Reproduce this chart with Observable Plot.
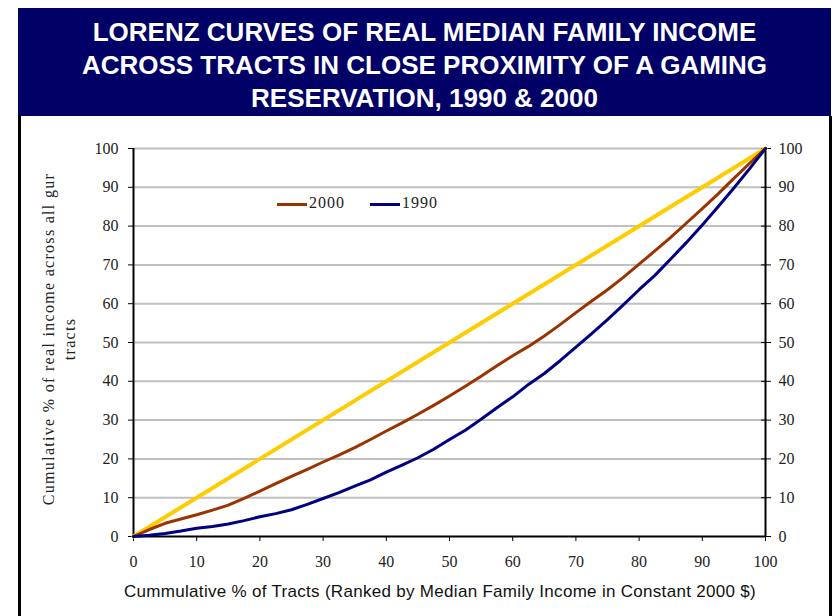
<!DOCTYPE html>
<html><head><meta charset="utf-8">
<script src="https://cdn.jsdelivr.net/npm/d3@7"></script>
<script src="https://cdn.jsdelivr.net/npm/@observablehq/plot@0.6"></script>
<style>
body{margin:0;width:835px;height:616px;background:#fff;position:relative;overflow:hidden;font-family:"Liberation Sans",Arial,sans-serif}
#banner{position:absolute;left:18px;top:8px;width:813px;height:108px;background:#000066;color:#fff;font-weight:bold;font-size:26px;line-height:33px;text-align:center;box-sizing:border-box;padding-top:8px}
.border{position:absolute;top:116px;width:3px;height:500px;background:#000}
#chart{position:absolute;left:0;top:0}
#ytitle{position:absolute;left:-110px;top:317px;width:340px;height:44px;transform:rotate(-90deg);transform-origin:50% 50%;text-align:center;font-family:"Liberation Serif",serif;font-size:16px;line-height:21px;color:#222;letter-spacing:1.3px;white-space:nowrap}
#xtitle{position:absolute;left:0;width:880px;top:582px;text-align:center;font-size:17px;letter-spacing:0.3px;color:#111}
#legend{position:absolute;left:277px;top:194px;font-family:"Liberation Serif",serif;font-size:16px;color:#222;letter-spacing:1px;white-space:nowrap}
#legend span.sw{display:inline-block;width:30px;height:0;border-top:3px solid;vertical-align:middle;margin-right:2px}
#legend span.item{margin-right:25px}
</style></head>
<body>
<div id="banner">LORENZ CURVES OF REAL MEDIAN FAMILY INCOME<br>ACROSS TRACTS IN CLOSE PROXIMITY OF A GAMING<br>RESERVATION, 1990 &amp; 2000</div>
<div class="border" style="left:18px"></div>
<div class="border" style="left:829px"></div>
<div id="chart"></div>
<div id="ytitle">Cumulative % of real income across all gur<br>tracts</div>
<div id="xtitle">Cummulative % of Tracts (Ranked by Median Family Income in Constant 2000 $)</div>
<div id="legend"><span class="item"><span class="sw" style="border-color:#993300"></span>2000</span><span class="item"><span class="sw" style="border-color:#000080"></span>1990</span></div>
<script>
const xTicks = [0,10,20,30,40,50,60,70,80,90,100];
const yTicks = [0,10,20,30,40,50,60,70,80,90,100];
const pct = [0,2.5,5,7.5,10,12.5,15,17.5,20,22.5,25,27.5,30,32.5,35,37.5,40,42.5,45,47.5,50,52.5,55,57.5,60,62.5,65,67.5,70,72.5,75,77.5,80,82.5,85,87.5,90,92.5,95,97.5,100];
const income2000 = [0,1.8,3.4,4.5,5.6,6.8,8.1,9.8,11.7,13.6,15.5,17.3,19.2,21.0,22.9,25.0,27.2,29.3,31.5,33.8,36.2,38.7,41.3,44.0,46.6,49.0,51.7,54.6,57.7,60.7,63.6,66.8,70.2,73.6,77.1,80.8,84.5,88.3,92.3,96.2,100];
const income1990 = [0,0.3,0.8,1.4,2.1,2.6,3.2,4.1,5.1,5.9,6.9,8.3,9.8,11.3,13.0,14.6,16.6,18.4,20.3,22.5,25.0,27.4,30.2,33.2,36.0,39.2,42.0,45.3,48.8,52.3,55.9,59.7,63.6,67.3,71.5,75.8,80.3,85.0,89.8,94.8,100];
const equalityX = [0,100];
const equalityY = [0,100];

const toRows = (xs, ys) => xs.map((x, i) => ({x, y: ys[i]}));

const chart = Plot.plot({
  width: 835, height: 616,
  marginTop: 148, marginBottom: 80, marginLeft: 133, marginRight: 70,
  x: {domain: [0, 100]},
  y: {domain: [0, 100]},
  style: {fontFamily: "'Liberation Serif', serif", fontSize: "16px", color: "#222", background: "transparent", overflow: "visible"},
  marks: [
    Plot.gridY(yTicks.filter(d => d > 0), {stroke: "#c0c0c0", strokeWidth: 2, strokeOpacity: 1}),
    Plot.axisY(yTicks, {anchor: "left", tickSize: 5, tickPadding: 10, label: null, stroke: "#000"}),
    Plot.axisY(yTicks, {anchor: "right", tickSize: 10, dx: -5, tickFormat: () => "", label: null, stroke: "#000"}),
    Plot.axisY(yTicks, {anchor: "right", tickSize: 0, tickPadding: 13, label: null}),
    Plot.axisX(xTicks, {anchor: "bottom", tickSize: 5, tickPadding: 14, label: null, stroke: "#000"}),
    Plot.ruleX([0, 100], {stroke: "#000", strokeWidth: 2}),
    Plot.ruleY([0], {stroke: "#000", strokeWidth: 2}),
    Plot.line(toRows(equalityX, equalityY), {x: "x", y: "y", stroke: "#FFCC00", strokeWidth: 4}),
    Plot.line(toRows(pct, income2000), {x: "x", y: "y", stroke: "#993300", strokeWidth: 3}),
    Plot.line(toRows(pct, income1990), {x: "x", y: "y", stroke: "#000080", strokeWidth: 3})
  ]
});
document.getElementById("chart").appendChild(chart);
</script>
</body></html>
